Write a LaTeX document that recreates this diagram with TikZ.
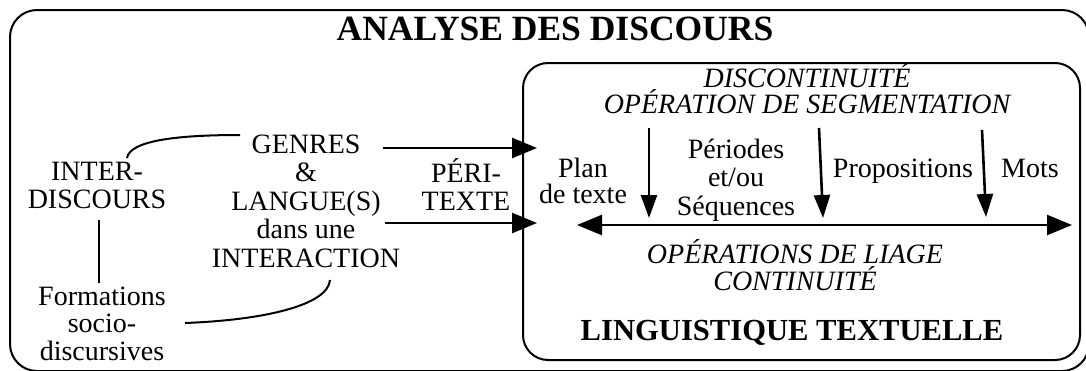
\documentclass[tikz,border=0pt]{standalone}
\usepackage{fontspec}
\setmainfont{Liberation Serif}
\usetikzlibrary{arrows.meta}
\begin{document}
\begin{tikzpicture}[x=1pt,y=-1pt,
  boxed/.style={draw, line width=2pt, inner sep=0pt},
  txt/.style={inner sep=0pt, align=center, anchor=base, font=\fontsize{28}{28}\selectfont},
  itx/.style={txt, font=\fontsize{28}{26}\selectfont\itshape},
  big/.style={inner sep=0pt, anchor=base, font=\fontsize{31}{31}\selectfont\bfseries},
  conn/.style={line width=2pt},
  harr/.style={line width=2.6pt, -{Triangle[length=25pt,width=20pt]}},
  dbl/.style={line width=2.6pt, {Triangle[length=25pt,width=20pt]}-{Triangle[length=25pt,width=20pt]}},
  varr/.style={line width=2.6pt, -{Triangle[length=23pt,width=16pt]}}
]
\useasboundingbox (0,0) rectangle (1086,370);
% frames
\node[boxed, rounded corners=27pt, minimum width=1079pt, minimum height=361pt] (outer) at (549.5,190.5) {};
\node[boxed, rounded corners=25pt, minimum width=557pt, minimum height=297pt] (inner) at (801.5,211.5) {};
% titles (anchor = baseline of last line)
\node[big, font=\fontsize{35.5}{35.5}\selectfont\bfseries] (title) at (555,40) {ANALYSE DES DISCOURS};
\node[big, font=\fontsize{30.6}{30.6}\selectfont\bfseries] (lt) at (792,340) {LINGUISTIQUE TEXTUELLE};
% left part
\node[txt] (inter) at (97,208) {INTER-\\DISCOURS};
\node[txt, font=\fontsize{28}{27.5}\selectfont] (form) at (102,360) {Formations\\socio-\\discursives};
\node[txt, font=\fontsize{28}{28.5}\selectfont] (genres) at (306,267) {GENRES\\\&\\LANGUE(S)\\dans une\\INTERACTION};
\node[txt] (peri) at (466,210) {PÉRI-\\TEXTE};
% inner part
\node[itx] (disc) at (807,113) {DISCONTINUITÉ\\OPÉRATION DE SEGMENTATION};
\node[itx, font=\fontsize{28}{27}\selectfont\itshape] (liage) at (795,290) {OPÉRATIONS DE LIAGE\\CONTINUITÉ};
\node[txt, font=\fontsize{28}{26}\selectfont] (plan) at (583,203) {Plan\\de texte};
\node[txt, font=\fontsize{28}{28.5}\selectfont] (periodes) at (736,215) {Périodes\\et/ou\\Séquences};
\node[txt] (props) at (903,177) {Propositions};
\node[txt] (mots) at (1030,177) {Mots};
% connector coordinates
\coordinate (c1s) at (127,158);
\coordinate (c1e) at (240,135);
\coordinate (vs) at (99,220);
\coordinate (ve) at (99,283);
\coordinate (c2s) at (185,323);
\coordinate (c2e) at (330,280);
\coordinate (a1s) at (383,148);
\coordinate (a1e) at (537,148);
\coordinate (a2s) at (385,223);
\coordinate (a2e) at (537,223);
\coordinate (h1) at (577,225);
\coordinate (h2) at (1072,225);
\coordinate (d1s) at (649,128);
\coordinate (d1e) at (649,218);
\coordinate (d2s) at (819,128);
\coordinate (d2e) at (823,218);
\coordinate (d3s) at (982,130);
\coordinate (d3e) at (986,217);
% connectors
\draw[conn] (c1s) .. controls (130,140) and (180,135) .. (c1e);
\draw[conn] (vs) -- (ve);
\draw[conn] (c2s) .. controls (265,320) and (328,305) .. (c2e);
\draw[harr] (a1s) -- (a1e);
\draw[harr] (a2s) -- (a2e);
\draw[dbl] (h1) -- (h2);
\draw[varr] (d1s) -- (d1e);
\draw[varr] (d2s) -- (d2e);
\draw[varr] (d3s) -- (d3e);
\end{tikzpicture}
\end{document}
